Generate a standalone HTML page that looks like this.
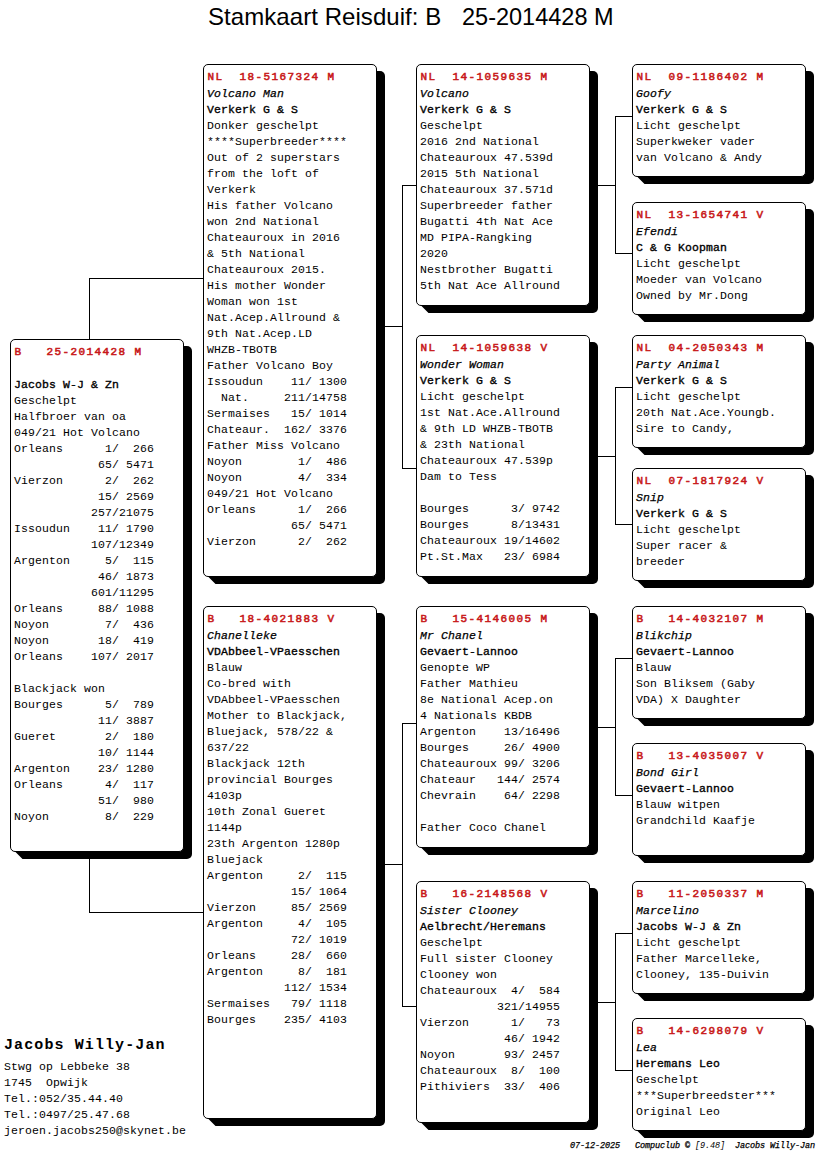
<!DOCTYPE html>
<html><head><meta charset="utf-8"><style>
html,body{margin:0;padding:0;background:#fff;}
body{width:816px;height:1172px;position:relative;overflow:hidden;}
.t{position:absolute;left:0;top:0;width:816px;text-align:left;font-family:"Liberation Sans",sans-serif;font-size:24px;color:#000;white-space:pre;}
.ln{position:absolute;background:#000;}
.sh{position:absolute;width:177px;background:#000;border-radius:0 5px 5px 0;clip-path:polygon(0 0,100% 0,100% 100%,7.5px 100%,0.5px calc(100% - 7px),0 calc(100% - 7px));}
.bx{position:absolute;width:174px;box-sizing:border-box;border:1px solid #000;border-radius:5px;background:#fff;}
.tx{position:absolute;left:0;top:0;font-family:"Liberation Mono",monospace;font-size:11.5px;letter-spacing:0.1px;line-height:16px;white-space:pre;color:#000;}
.tx div{position:absolute;left:3px;height:16px;}
.hd{font-size:11px;letter-spacing:1.4px;margin-left:0.5px;font-weight:normal;color:#c81818;-webkit-text-stroke:0.55px #c81818;}
.nm{font-weight:normal;font-style:italic;-webkit-text-stroke:0.25px #000;}
.ow{font-weight:normal;-webkit-text-stroke:0.35px #000;}
.ft{position:absolute;font-family:"Liberation Mono",monospace;white-space:pre;color:#000;}
</style></head><body>
<div class="t" style="left:208px;top:3px;letter-spacing:0.06px">Stamkaart Reisduif: B</div>
<div class="t" style="left:462px;top:4px;font-size:23.5px">25-2014428 M</div>
<div class="ln" style="left:89px;top:278px;width:1px;height:62px"></div>
<div class="ln" style="left:89px;top:278px;width:115px;height:1px"></div>
<div class="ln" style="left:89px;top:851px;width:1px;height:62px"></div>
<div class="ln" style="left:89px;top:912px;width:115px;height:1px"></div>
<div class="ln" style="left:376px;top:326px;width:27px;height:1px"></div>
<div class="ln" style="left:402px;top:185px;width:1px;height:284px"></div>
<div class="ln" style="left:402px;top:185px;width:15px;height:1px"></div>
<div class="ln" style="left:402px;top:468px;width:15px;height:1px"></div>
<div class="ln" style="left:376px;top:864px;width:27px;height:1px"></div>
<div class="ln" style="left:402px;top:723px;width:1px;height:284px"></div>
<div class="ln" style="left:402px;top:723px;width:15px;height:1px"></div>
<div class="ln" style="left:402px;top:1006px;width:15px;height:1px"></div>
<div class="ln" style="left:589px;top:185px;width:27px;height:1px"></div>
<div class="ln" style="left:615px;top:116px;width:1px;height:138px"></div>
<div class="ln" style="left:615px;top:116px;width:18px;height:1px"></div>
<div class="ln" style="left:615px;top:253px;width:18px;height:1px"></div>
<div class="ln" style="left:589px;top:456px;width:27px;height:1px"></div>
<div class="ln" style="left:615px;top:387px;width:1px;height:138px"></div>
<div class="ln" style="left:615px;top:387px;width:18px;height:1px"></div>
<div class="ln" style="left:615px;top:524px;width:18px;height:1px"></div>
<div class="ln" style="left:589px;top:727px;width:27px;height:1px"></div>
<div class="ln" style="left:615px;top:658px;width:1px;height:138px"></div>
<div class="ln" style="left:615px;top:658px;width:18px;height:1px"></div>
<div class="ln" style="left:615px;top:795px;width:18px;height:1px"></div>
<div class="ln" style="left:589px;top:1002px;width:27px;height:1px"></div>
<div class="ln" style="left:615px;top:933px;width:1px;height:138px"></div>
<div class="ln" style="left:615px;top:933px;width:18px;height:1px"></div>
<div class="ln" style="left:615px;top:1070px;width:18px;height:1px"></div>
<div class="sh" style="left:15px;top:346px;height:513px"></div><div class="bx" style="left:10px;top:339px;height:513px"><div class="tx"><div class="hd" style="top:4px">B   25-2014428 M</div><div class="ow" style="top:37px">Jacobs W-J &amp; Zn</div><div style="top:53px">Geschelpt</div><div style="top:69px">Halfbroer van oa</div><div style="top:85px">049/21 Hot Volcano</div><div style="top:101px">Orleans      1/  266</div><div style="top:117px">            65/ 5471</div><div style="top:133px">Vierzon      2/  262</div><div style="top:149px">            15/ 2569</div><div style="top:165px">           257/21075</div><div style="top:181px">Issoudun    11/ 1790</div><div style="top:197px">           107/12349</div><div style="top:213px">Argenton     5/  115</div><div style="top:229px">            46/ 1873</div><div style="top:245px">           601/11295</div><div style="top:261px">Orleans     88/ 1088</div><div style="top:277px">Noyon        7/  436</div><div style="top:293px">Noyon       18/  419</div><div style="top:309px">Orleans    107/ 2017</div><div style="top:341px">Blackjack won</div><div style="top:357px">Bourges      5/  789</div><div style="top:373px">            11/ 3887</div><div style="top:389px">Gueret       2/  180</div><div style="top:405px">            10/ 1144</div><div style="top:421px">Argenton    23/ 1280</div><div style="top:437px">Orleans      4/  117</div><div style="top:453px">            51/  980</div><div style="top:469px">Noyon        8/  229</div></div></div>
<div class="sh" style="left:208px;top:71px;height:513px"></div><div class="bx" style="left:203px;top:64px;height:513px"><div class="tx"><div class="hd" style="top:4px">NL  18-5167324 M</div><div class="nm" style="top:21px">Volcano Man</div><div class="ow" style="top:37px">Verkerk G &amp; S</div><div style="top:53px">Donker geschelpt</div><div style="top:69px">****Superbreeder****</div><div style="top:85px">Out of 2 superstars</div><div style="top:101px">from the loft of</div><div style="top:117px">Verkerk</div><div style="top:133px">His father Volcano</div><div style="top:149px">won 2nd National</div><div style="top:165px">Chateauroux in 2016</div><div style="top:181px">&amp; 5th National</div><div style="top:197px">Chateauroux 2015.</div><div style="top:213px">His mother Wonder</div><div style="top:229px">Woman won 1st</div><div style="top:245px">Nat.Acep.Allround &amp;</div><div style="top:261px">9th Nat.Acep.LD</div><div style="top:277px">WHZB-TBOTB</div><div style="top:293px">Father Volcano Boy</div><div style="top:309px">Issoudun    11/ 1300</div><div style="top:325px">  Nat.     211/14758</div><div style="top:341px">Sermaises   15/ 1014</div><div style="top:357px">Chateaur.  162/ 3376</div><div style="top:373px">Father Miss Volcano</div><div style="top:389px">Noyon        1/  486</div><div style="top:405px">Noyon        4/  334</div><div style="top:421px">049/21 Hot Volcano</div><div style="top:437px">Orleans      1/  266</div><div style="top:453px">            65/ 5471</div><div style="top:469px">Vierzon      2/  262</div></div></div>
<div class="sh" style="left:208px;top:613px;height:513px"></div><div class="bx" style="left:203px;top:606px;height:513px"><div class="tx"><div class="hd" style="top:4px">B   18-4021883 V</div><div class="nm" style="top:21px">Chanelleke</div><div class="ow" style="top:37px">VDAbbeel-VPaesschen</div><div style="top:53px">Blauw</div><div style="top:69px">Co-bred with</div><div style="top:85px">VDAbbeel-VPaesschen</div><div style="top:101px">Mother to Blackjack,</div><div style="top:117px">Bluejack, 578/22 &amp;</div><div style="top:133px">637/22</div><div style="top:149px">Blackjack 12th</div><div style="top:165px">provincial Bourges</div><div style="top:181px">4103p</div><div style="top:197px">10th Zonal Gueret</div><div style="top:213px">1144p</div><div style="top:229px">23th Argenton 1280p</div><div style="top:245px">Bluejack</div><div style="top:261px">Argenton     2/  115</div><div style="top:277px">            15/ 1064</div><div style="top:293px">Vierzon     85/ 2569</div><div style="top:309px">Argenton     4/  105</div><div style="top:325px">            72/ 1019</div><div style="top:341px">Orleans     28/  660</div><div style="top:357px">Argenton     8/  181</div><div style="top:373px">           112/ 1534</div><div style="top:389px">Sermaises   79/ 1118</div><div style="top:405px">Bourges    235/ 4103</div></div></div>
<div class="sh" style="left:421px;top:71px;height:242px"></div><div class="bx" style="left:416px;top:64px;height:242px"><div class="tx"><div class="hd" style="top:4px">NL  14-1059635 M</div><div class="nm" style="top:21px">Volcano</div><div class="ow" style="top:37px">Verkerk G &amp; S</div><div style="top:53px">Geschelpt</div><div style="top:69px">2016 2nd National</div><div style="top:85px">Chateauroux 47.539d</div><div style="top:101px">2015 5th National</div><div style="top:117px">Chateauroux 37.571d</div><div style="top:133px">Superbreeder father</div><div style="top:149px">Bugatti 4th Nat Ace</div><div style="top:165px">MD PIPA-Rangking</div><div style="top:181px">2020</div><div style="top:197px">Nestbrother Bugatti</div><div style="top:213px">5th Nat Ace Allround</div></div></div>
<div class="sh" style="left:421px;top:342px;height:242px"></div><div class="bx" style="left:416px;top:335px;height:242px"><div class="tx"><div class="hd" style="top:4px">NL  14-1059638 V</div><div class="nm" style="top:21px">Wonder Woman</div><div class="ow" style="top:37px">Verkerk G &amp; S</div><div style="top:53px">Licht geschelpt</div><div style="top:69px">1st Nat.Ace.Allround</div><div style="top:85px">&amp; 9th LD WHZB-TBOTB</div><div style="top:101px">&amp; 23th National</div><div style="top:117px">Chateauroux 47.539p</div><div style="top:133px">Dam to Tess</div><div style="top:165px">Bourges      3/ 9742</div><div style="top:181px">Bourges      8/13431</div><div style="top:197px">Chateauroux 19/14602</div><div style="top:213px">Pt.St.Max   23/ 6984</div></div></div>
<div class="sh" style="left:421px;top:613px;height:242px"></div><div class="bx" style="left:416px;top:606px;height:242px"><div class="tx"><div class="hd" style="top:4px">B   15-4146005 M</div><div class="nm" style="top:21px">Mr Chanel</div><div class="ow" style="top:37px">Gevaert-Lannoo</div><div style="top:53px">Genopte WP</div><div style="top:69px">Father Mathieu</div><div style="top:85px">8e National Acep.on</div><div style="top:101px">4 Nationals KBDB</div><div style="top:117px">Argenton    13/16496</div><div style="top:133px">Bourges     26/ 4900</div><div style="top:149px">Chateauroux 99/ 3206</div><div style="top:165px">Chateaur   144/ 2574</div><div style="top:181px">Chevrain    64/ 2298</div><div style="top:213px">Father Coco Chanel</div></div></div>
<div class="sh" style="left:421px;top:888px;height:242px"></div><div class="bx" style="left:416px;top:881px;height:242px"><div class="tx"><div class="hd" style="top:4px">B   16-2148568 V</div><div class="nm" style="top:21px">Sister Clooney</div><div class="ow" style="top:37px">Aelbrecht/Heremans</div><div style="top:53px">Geschelpt</div><div style="top:69px">Full sister Clooney</div><div style="top:85px">Clooney won</div><div style="top:101px">Chateauroux  4/  584</div><div style="top:117px">           321/14955</div><div style="top:133px">Vierzon      1/   73</div><div style="top:149px">            46/ 1942</div><div style="top:165px">Noyon       93/ 2457</div><div style="top:181px">Chateauroux  8/  100</div><div style="top:197px">Pithiviers  33/  406</div></div></div>
<div class="sh" style="left:637px;top:71px;height:113px"></div><div class="bx" style="left:632px;top:64px;height:113px"><div class="tx"><div class="hd" style="top:4px">NL  09-1186402 M</div><div class="nm" style="top:21px">Goofy</div><div class="ow" style="top:37px">Verkerk G &amp; S</div><div style="top:53px">Licht geschelpt</div><div style="top:69px">Superkweker vader</div><div style="top:85px">van Volcano &amp; Andy</div></div></div>
<div class="sh" style="left:637px;top:209px;height:113px"></div><div class="bx" style="left:632px;top:202px;height:113px"><div class="tx"><div class="hd" style="top:4px">NL  13-1654741 V</div><div class="nm" style="top:21px">Efendi</div><div class="ow" style="top:37px">C &amp; G Koopman</div><div style="top:53px">Licht geschelpt</div><div style="top:69px">Moeder van Volcano</div><div style="top:85px">Owned by Mr.Dong</div></div></div>
<div class="sh" style="left:637px;top:342px;height:113px"></div><div class="bx" style="left:632px;top:335px;height:113px"><div class="tx"><div class="hd" style="top:4px">NL  04-2050343 M</div><div class="nm" style="top:21px">Party Animal</div><div class="ow" style="top:37px">Verkerk G &amp; S</div><div style="top:53px">Licht geschelpt</div><div style="top:69px">20th Nat.Ace.Youngb.</div><div style="top:85px">Sire to Candy,</div></div></div>
<div class="sh" style="left:637px;top:475px;height:113px"></div><div class="bx" style="left:632px;top:468px;height:113px"><div class="tx"><div class="hd" style="top:4px">NL  07-1817924 V</div><div class="nm" style="top:21px">Snip</div><div class="ow" style="top:37px">Verkerk G &amp; S</div><div style="top:53px">Licht geschelpt</div><div style="top:69px">Super racer &amp;</div><div style="top:85px">breeder</div></div></div>
<div class="sh" style="left:637px;top:613px;height:113px"></div><div class="bx" style="left:632px;top:606px;height:113px"><div class="tx"><div class="hd" style="top:4px">B   14-4032107 M</div><div class="nm" style="top:21px">Blikchip</div><div class="ow" style="top:37px">Gevaert-Lannoo</div><div style="top:53px">Blauw</div><div style="top:69px">Son Bliksem (Gaby</div><div style="top:85px">VDA) X Daughter</div></div></div>
<div class="sh" style="left:637px;top:750px;height:113px"></div><div class="bx" style="left:632px;top:743px;height:113px"><div class="tx"><div class="hd" style="top:4px">B   13-4035007 V</div><div class="nm" style="top:21px">Bond Girl</div><div class="ow" style="top:37px">Gevaert-Lannoo</div><div style="top:53px">Blauw witpen</div><div style="top:69px">Grandchild Kaafje</div></div></div>
<div class="sh" style="left:637px;top:888px;height:113px"></div><div class="bx" style="left:632px;top:881px;height:113px"><div class="tx"><div class="hd" style="top:4px">B   11-2050337 M</div><div class="nm" style="top:21px">Marcelino</div><div class="ow" style="top:37px">Jacobs W-J &amp; Zn</div><div style="top:53px">Licht geschelpt</div><div style="top:69px">Father Marcelleke,</div><div style="top:85px">Clooney, 135-Duivin</div></div></div>
<div class="sh" style="left:637px;top:1025px;height:113px"></div><div class="bx" style="left:632px;top:1018px;height:113px"><div class="tx"><div class="hd" style="top:4px">B   14-6298079 V</div><div class="nm" style="top:21px">Lea</div><div class="ow" style="top:37px">Heremans Leo</div><div style="top:53px">Geschelpt</div><div style="top:69px">***Superbreedster***</div><div style="top:85px">Original Leo</div></div></div>
<div class="ft" style="left:4px;top:1037px;font-size:15px;letter-spacing:1.1px;font-weight:bold;line-height:18px">Jacobs Willy-Jan</div>
<div class="ft" style="left:4px;top:1059px;font-size:11.5px;letter-spacing:0.1px;line-height:16px">Stwg op Lebbeke 38
1745  Opwijk
Tel.:052/35.44.40
Tel.:0497/25.47.68
jeroen.jacobs250@skynet.be</div>
<div class="ft" style="left:570px;top:1140px;font-size:8.5px;letter-spacing:-0.1px;line-height:12px;font-style:italic;-webkit-text-stroke:0.25px #000">07-12-2025   Compuclub © <span style="-webkit-text-stroke:0">[9.48]</span>  Jacobs Willy-Jan</div>
</body></html>
